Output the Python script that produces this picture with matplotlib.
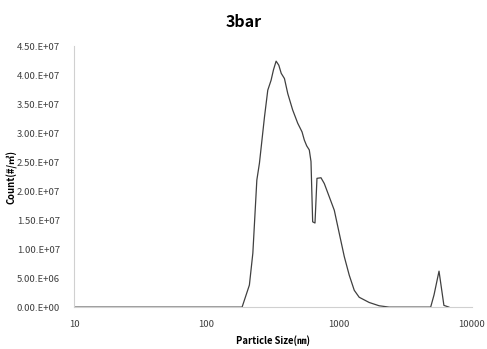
import numpy as np
import matplotlib
matplotlib.use("Agg")
import matplotlib.pyplot as plt

plt.rcParams['font.family'] = ['Noto Sans CJK KR', 'DejaVu Sans']

# particle size (nm) and count
size = [10, 185, 210, 223, 239, 250, 273, 289, 306, 319, 334, 350, 365, 386,
        409, 445, 486, 524, 545, 568, 594, 612, 630, 656, 679, 728, 771, 841,
        917, 1000, 1091, 1189, 1297, 1413, 1681, 2000, 2378, 4887, 5180, 5650,
        6150, 6710]
count = [0, 0, 3.8e6, 9.3e6, 21.9e6, 24.8e6, 32.8e6, 37.4e6, 39.1e6, 40.9e6,
         42.4e6, 41.7e6, 40.3e6, 39.4e6, 36.8e6, 34.0e6, 31.7e6, 30.2e6,
         28.8e6, 27.8e6, 27.1e6, 25.1e6, 14.7e6, 14.5e6, 22.2e6, 22.3e6,
         21.3e6, 19.0e6, 16.7e6, 12.7e6, 8.7e6, 5.5e6, 2.9e6, 1.7e6, 0.8e6,
         0.23e6, 0, 0, 2.1e6, 6.2e6, 0.3e6, 0]

yticks = np.arange(0, 4.5e7 + 1, 5e6)
ytick_labels = ["0.00.E+00", "5.00.E+06", "1.00.E+07", "1.50.E+07", "2.00.E+07",
                "2.50.E+07", "3.00.E+07", "3.50.E+07", "4.00.E+07", "4.50.E+07"]
xticks = [10, 100, 1000, 10000]
xtick_labels = ["10", "100", "1000", "10000"]

fig = plt.figure(figsize=(4.87, 3.49), dpi=100)
ax = fig.add_axes([0.152, 0.12, 0.817, 0.748])

ax.plot(size, count, color='#404040', linewidth=0.9)

ax.set_xscale('log')
ax.set_xlim(10, 10000)
ax.set_ylim(0, 4.5e7)
ax.set_xticks(xticks)
ax.set_xticklabels(xtick_labels)
ax.set_yticks(yticks)
ax.set_yticklabels(ytick_labels)
ax.minorticks_off()
ax.tick_params(length=0, labelsize=6.9, labelcolor='#404040', pad=10)
ax.tick_params(axis='x', pad=9)

for s in ['top', 'right']:
    ax.spines[s].set_visible(False)
for s in ['left', 'bottom']:
    ax.spines[s].set_color('#d0d0d0')
    ax.spines[s].set_linewidth(0.8)

ax.set_xlabel('Particle Size(㎚)', fontsize=6.8, fontweight='bold', labelpad=5)
ax.set_ylabel('Count(#/㎥)', fontsize=6.8, fontweight='bold')
ax.yaxis.set_label_coords(-0.143, 0.5)
fig.text(0.5, 0.938, '3bar', ha='center', va='center', fontsize=11.5,
         fontweight='bold')

fig.savefig('out.png', dpi=100)
